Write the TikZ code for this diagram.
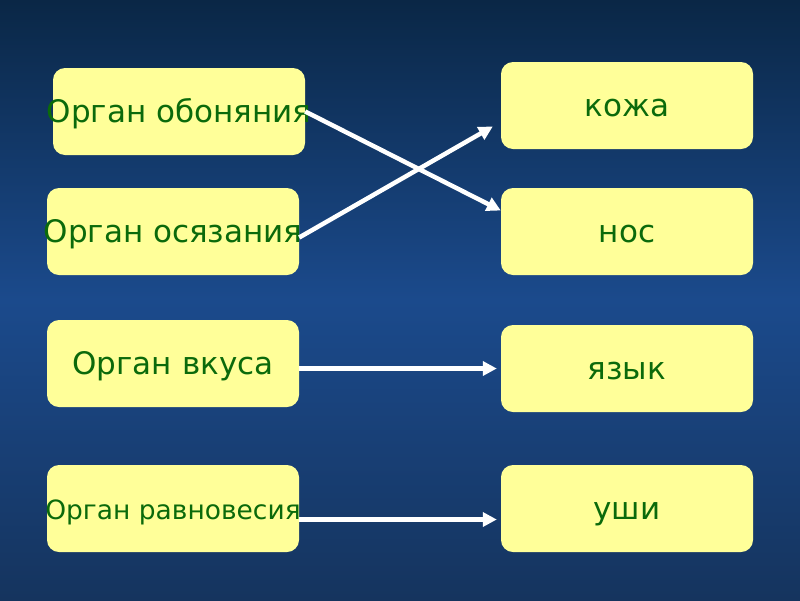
\documentclass[tikz,border=0pt]{standalone}
\usepackage{fontspec}
\setmainfont{DejaVu Sans}
\usetikzlibrary{arrows.meta}
\definecolor{boxyellow}{HTML}{FFFF99}
\definecolor{textgreen}{HTML}{0B6A0B}
\definecolor{bgtop}{HTML}{0A2746}
\definecolor{bgmid}{HTML}{1B4A8C}
\definecolor{bgbot}{HTML}{15345E}
\begin{document}
\begin{tikzpicture}[x=1pt, y=-1pt,
    organ/.style={rectangle, rounded corners=12pt, fill=boxyellow, text=textgreen,
      minimum width=252pt, minimum height=87pt, inner xsep=0pt, text height=26pt, text depth=4pt,
      font=\fontsize{31}{36}\selectfont},
    link/.style={white, line width=4.5pt, -{Triangle[length=14pt, width=14pt]}}]
      % Background
      \shade[top color=bgtop, bottom color=bgbot, middle color=bgmid] (0,0) rectangle (800,600);
      \useasboundingbox (0,0) rectangle (800,600);

      % Nodes
      \node[organ] at (179, 111.5) (obon) {\makebox[0pt]{Орган обоняния}};
      \node[organ] at (173, 231.5) (osyaz) {\makebox[0pt]{Орган осязания}};
      \node[organ] at (173, 363.5) (vkus) {Орган вкуса};
      \node[organ, font=\fontsize{26.5}{31}\selectfont] at (173, 508.5) (ravn) {\makebox[0pt]{Орган равновесия}};

      \node[organ] at (627, 105.5) (kozha) {кожа};
      \node[organ] at (627, 231.5) (nos) {нос};
      \node[organ] at (627, 368.5) (yazyk) {язык};
      \node[organ] at (627, 508.5) (ushi) {уши};

      \draw[link] (obon.east) -- ([yshift=21pt]nos.west);
      \draw[link] ([yshift=-6pt]osyaz.east) -- ([xshift=-8pt, yshift=-21pt]kozha.west);
      \draw[link] ([yshift=-5pt]vkus.east) -- ([xshift=-4pt]yazyk.west);
      \draw[link] ([yshift=-11pt]ravn.east) -- ([xshift=-4pt, yshift=-11pt]ushi.west);
    \end{tikzpicture}
\end{document}
